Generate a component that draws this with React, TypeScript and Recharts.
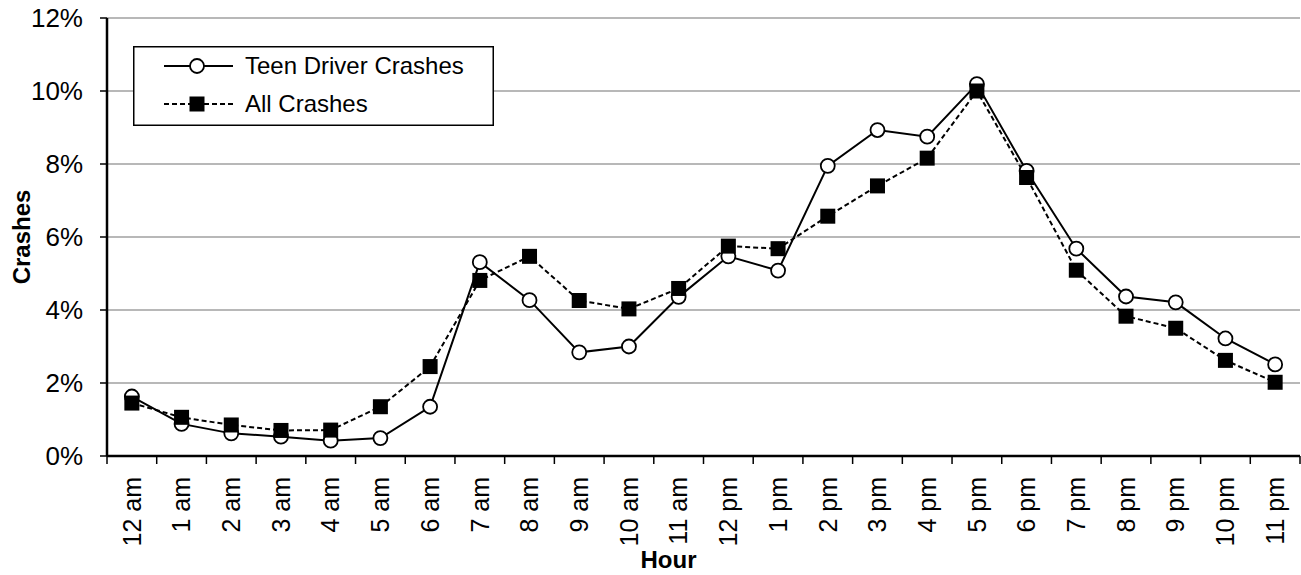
import React from 'react'
import { LineChart, Line, XAxis, YAxis, CartesianGrid, Legend } from 'recharts'

const hours = [
  '12 am', '1 am', '2 am', '3 am', '4 am', '5 am', '6 am', '7 am', '8 am', '9 am', '10 am', '11 am',
  '12 pm', '1 pm', '2 pm', '3 pm', '4 pm', '5 pm', '6 pm', '7 pm', '8 pm', '9 pm', '10 pm', '11 pm',
]
const teenCrashes = [
  1.63, 0.88, 0.62, 0.53, 0.42, 0.49, 1.35, 5.31, 4.27, 2.84, 3.0, 4.36,
  5.47, 5.08, 7.95, 8.93, 8.75, 10.19, 7.81, 5.68, 4.37, 4.21, 3.22, 2.51,
]
const allCrashes = [
  1.45, 1.06, 0.85, 0.7, 0.71, 1.35, 2.45, 4.81, 5.47, 4.26, 4.03, 4.59,
  5.75, 5.68, 6.57, 7.4, 8.16, 10.0, 7.63, 5.09, 3.83, 3.5, 2.62, 2.02,
]
const yTicks = [0, 2, 4, 6, 8, 10, 12]

const data = hours.map((h, i) => ({ hour: h, teen: teenCrashes[i], all: allCrashes[i] }))

const FONT = '"Liberation Sans", Arial, sans-serif'

// label at band centre, tick mark at band edges (Excel style)
function HourTick(props: any) {
  const { x, y, payload, index, visibleTicksCount, width } = props
  let half = payload && payload.offset ? payload.offset : 0
  if (!half && width && visibleTicksCount) half = width / visibleTicksCount / 2
  if (!half) half = 24.85
  const ty = y + 21
  return (
    <g>
      <line x1={x - half} x2={x - half} y1={y} y2={y + 8} stroke="#000" strokeWidth={1.5} />
      {index === visibleTicksCount - 1 && (
        <line x1={x + half} x2={x + half} y1={y} y2={y + 8} stroke="#000" strokeWidth={1.5} />
      )}
      <text
        x={x}
        y={ty}
        dy="0.35em"
        transform={`rotate(-90, ${x}, ${ty})`}
        textAnchor="end"
        fontSize={25}
        fontFamily={FONT}
        fill="#000"
      >
        {payload.value}
      </text>
    </g>
  )
}

function SquareDot(props: any) {
  const { cx, cy, index } = props
  if (cx == null || cy == null) return <g key={`sq-${index}`} />
  return <rect key={`sq-${index}`} x={cx - 7.5} y={cy - 7.5} width={15} height={15} fill="#000" />
}

function LegendBox() {
  return (
    <svg width={361} height={80} style={{ display: 'block' }}>
      <rect x={0.75} y={0.75} width={359.5} height={78.5} fill="#fff" stroke="#000" strokeWidth={1.5} />
      <line x1={31} x2={100} y1={20} y2={20} stroke="#000" strokeWidth={2} />
      <circle cx={64} cy={20} r={7} fill="#fff" stroke="#000" strokeWidth={1.8} />
      <text x={112} y={28} fontSize={24} fontFamily={FONT} fill="#000">Teen Driver Crashes</text>
      <line x1={31} x2={100} y1={58} y2={58} stroke="#000" strokeWidth={2} strokeDasharray="5 3" />
      <rect x={56.5} y={50.5} width={15} height={15} fill="#000" />
      <text x={112} y={66} fontSize={24} fontFamily={FONT} fill="#000">All Crashes</text>
    </svg>
  )
}

export default function App() {
  return (
    <div style={{ position: 'absolute', left: 0, top: 0, background: '#fff' }}>
      <LineChart width={1301} height={575} data={data} margin={{ top: 18, right: 1, bottom: 0, left: 0 }}>
        <CartesianGrid vertical={false} stroke="#a0a0a0" strokeWidth={1.5} />
        <XAxis
          dataKey="hour"
          scale="band"
          interval={0}
          tick={HourTick}
          tickLine={false}
          tickSize={0}
          tickMargin={0}
          height={119}
          axisLine={{ stroke: '#000', strokeWidth: 2.5 }}
          label={{
            content: (p: any) => {
              const vb = p.viewBox
              return (
                <text x={vb.x + vb.width / 2 - 35} y={568} textAnchor="middle" fontSize={24}
                  fontWeight="bold" fontFamily={FONT} fill="#000">Hour</text>
              )
            },
          }}
        />
        <XAxis xAxisId="top" orientation="top" dataKey="hour" scale="band" height={0} tick={false} tickLine={false}
          axisLine={{ stroke: '#000', strokeWidth: 2 }} />
        <YAxis
          domain={[0, 12]}
          ticks={yTicks}
          interval={0}
          width={107}
          tickSize={7}
          tickMargin={17}
          tickFormatter={(v: number) => `${v}%`}
          tick={{ fontSize: 26, fontFamily: FONT, fill: '#000' }}
          tickLine={{ stroke: '#000', strokeWidth: 1.5 }}
          axisLine={{ stroke: '#000', strokeWidth: 2.5 }}
          label={{
            content: () => {
              const cy = 18 + (456 - 18) / 2
              return (
                <text x={22} y={cy} dy="0.35em" transform={`rotate(-90, 22, ${cy})`} textAnchor="middle"
                  fontSize={24} fontWeight="bold" fontFamily={FONT} fill="#000">Crashes</text>
              )
            },
          }}
        />
        <YAxis yAxisId="right" orientation="right" width={0} domain={[0, 12]} tick={false} tickLine={false}
          axisLine={{ stroke: '#000', strokeWidth: 1.5 }} />
        <Legend
          layout="vertical"
          align="center"
          verticalAlign="middle"
          content={() => <LegendBox />}
          wrapperStyle={{ left: 133, top: 46, width: 361, height: 80 }}
        />
        <Line
          dataKey="teen"
          name="Teen Driver Crashes"
          stroke="#000"
          strokeWidth={2}
          dot={{ r: 7, fill: '#fff', stroke: '#000', strokeWidth: 1.8 }}
          isAnimationActive={false}
        />
        <Line
          dataKey="all"
          name="All Crashes"
          stroke="#000"
          strokeWidth={2}
          strokeDasharray="5 3"
          dot={SquareDot}
          isAnimationActive={false}
        />
      </LineChart>
    </div>
  )
}
